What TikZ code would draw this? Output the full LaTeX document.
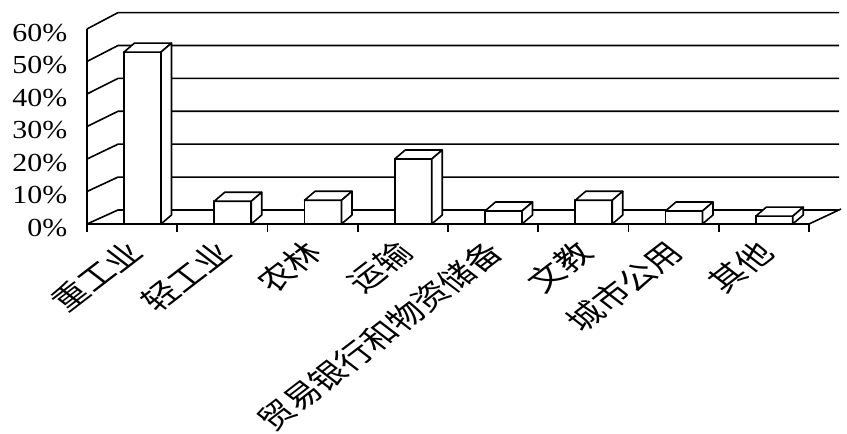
\documentclass[tikz,border=0pt]{standalone}
\usepackage{graphicx}
\usepackage{fontspec}
\setmainfont{Liberation Serif}
\newfontfamily\cjk{Noto Sans CJK SC}
\begin{document}
\begin{tikzpicture}[x=1pt,y=1pt,line width=1.6pt,
    bar/.style={draw,fill=white,line join=round},
    pct/.style={anchor=east,inner sep=0pt,font=\fontsize{26}{26}\selectfont},
    cat/.style={anchor=north east,inner sep=0pt,font=\cjk\fontsize{28}{28}\selectfont}]
    \useasboundingbox (0,0) rectangle (847,434);
    % back wall, side wall and scale
    \foreach \k/\t in {0/0,1/10,2/20,3/30,4/40,5/50,6/60}{
        \draw (87,210+32.5*\k) -- (118,224+32.9*\k) -- (839,224+32.9*\k);
        \node[pct] (p\k) at (68,206+32.5*\k) {\scalebox{1.15}[1]{\t\%}};
    }
    \draw (87,202) -- (87,405);
    \draw (87,210) -- (809,210) -- (841,225);
    \foreach \i in {0,...,8}
        \draw (87+90.25*\i,210) -- ++(0,-8);
    % columns
    \foreach \i/\v/\name in {0/52.9/重工业,1/7/轻工业,2/7.3/农林,3/20/运输,
            4/4/贸易银行和物资储备,5/7.3/文教,6/4/城市公用,7/2.4/其他}{
        \pgfmathsetmacro\xl{87+90.25*\i+37}
        \pgfmathsetmacro\h{3.25*\v}
        \draw[bar] (\xl,210) rectangle ++(37,\h);
        \draw[bar] (\xl,210+\h) -- ++(10.5,9) -- ++(37,0) -- ++(-10.5,-9) -- cycle;
        \draw[bar] (\xl+37,210) -- ++(10.5,9) -- ++(0,\h) -- ++(-10.5,-9) -- cycle;
        \node[cat] (c\i) at (87+90.25*\i+60,197) {\scalebox{1.3}[1]{\rotatebox{45}{\name}}};
    }
\end{tikzpicture}
\end{document}
